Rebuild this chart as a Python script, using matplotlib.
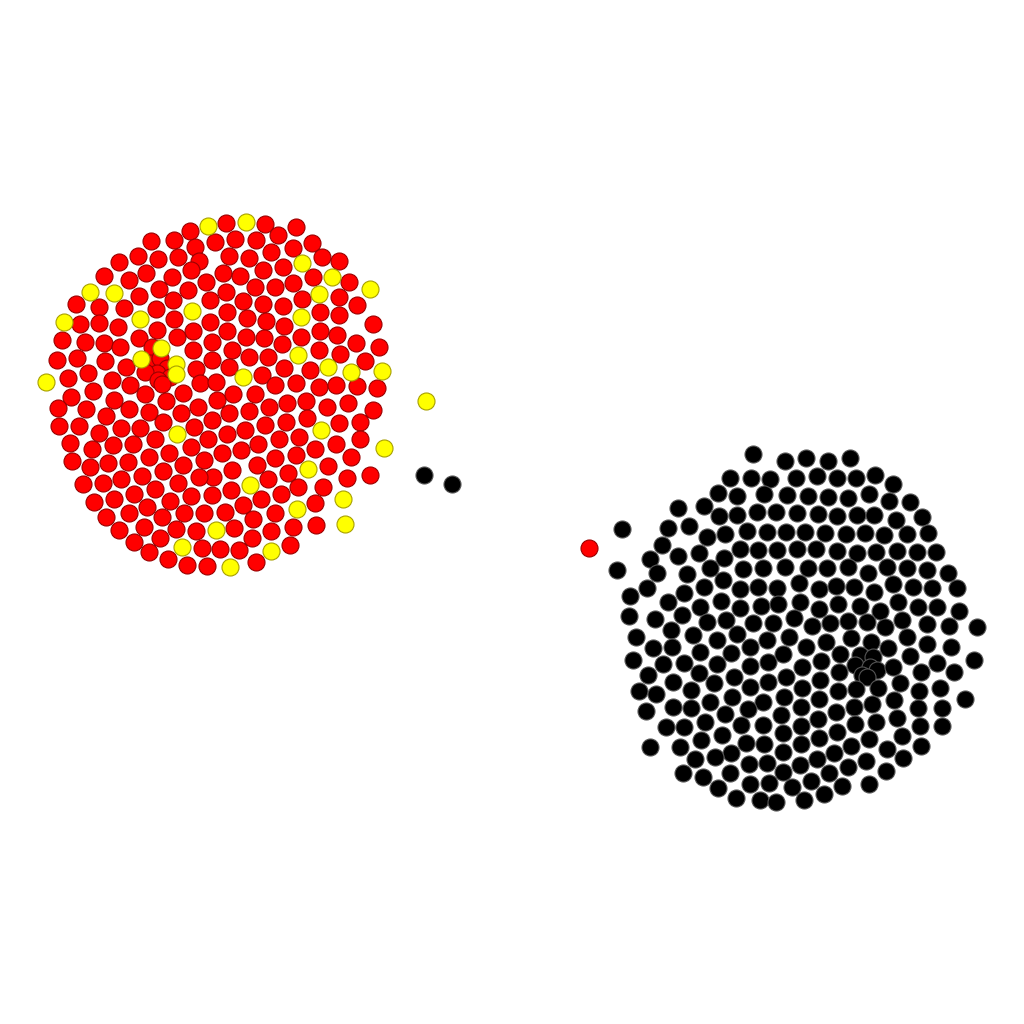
import matplotlib
matplotlib.use('Agg')
import numpy as np
import matplotlib.pyplot as plt

# node positions of the layout (canvas units, y grows downwards)
red_nodes = [
    (190,231), (151,241), (174,240), (195,247), (215,242),
    (119,262), (138,256), (158,259), (178,257), (199,261),
    (104,276), (129,280), (146,273), (172,277), (191,270), (206,282),
    (139,296), (159,289), (188,290), (210,300),
    (76,304), (99,307), (124,308), (156,309), (173,300),
    (80,324), (99,323), (118,327), (157,330), (174,319), (193,331), (210,322),
    (62,340), (85,342), (104,343), (120,347), (139,338), (177,337), (193,350), (212,342),
    (57,360), (77,358), (105,361), (126,367), (196,369), (212,360),
    (68,378), (88,373), (112,380), (130,385), (200,383), (216,382),
    (152,347), (150,363), (160,358), (167,368), (157,373), (145,372), (170,377), (158,380), (162,384),
    (93,391), (145,394), (183,393), (217,400), (71,397), (58,408), (86,409), (114,400), (129,409),
    (149,412), (166,401), (181,413), (198,407), (212,420),
    (59,426), (79,426), (99,433), (106,416), (121,428), (140,428), (163,422), (194,427), (208,439),
    (70,443), (92,449), (113,445), (133,444), (155,439), (169,453), (191,447), (222,453),
    (72,461), (90,467), (108,463), (128,462), (149,457), (163,471), (183,465), (204,460), (213,477),
    (83,484), (103,483), (121,479), (142,476), (155,489), (178,483), (199,477), (212,495),
    (94,502), (114,499), (134,494), (170,501), (191,496),
    (106,517), (129,513), (147,507), (162,517), (184,513), (204,513),
    (119,530), (144,527), (176,529), (196,531),
    (134,542), (160,538), (202,548), (220,549),
    (149,552), (168,559), (187,565), (207,566),
    (226,223), (265,224), (296,227), (235,239), (256,240), (278,235), (293,248), (312,243),
    (229,256), (249,258), (271,252), (322,257), (339,261),
    (223,273), (240,276), (263,270), (283,267), (293,283), (313,277), (349,282),
    (226,292), (255,287), (275,287), (339,297),
    (243,301), (263,304), (283,306), (302,299), (357,305),
    (227,312), (247,318), (266,321), (284,326), (320,312), (339,315), (373,324),
    (227,331), (246,337), (264,338), (282,344), (301,337), (320,331), (337,335), (356,343), (379,347),
    (232,350), (249,357), (268,357), (284,368), (319,350), (340,354), (365,361),
    (229,367), (262,375), (310,370),
    (275,385), (296,383), (319,387), (336,385), (357,386), (377,388),
    (233,394), (255,394), (229,413), (249,411), (269,407), (287,403), (306,401), (327,407), (348,403), (373,410),
    (227,434), (245,430), (265,425), (286,422), (307,418), (339,423), (360,422),
    (241,450), (258,444), (279,439), (299,437), (315,449), (336,444), (360,439), (351,457),
    (232,470), (257,465), (275,458), (296,455), (328,466), (347,478), (370,475),
    (231,490), (268,479), (288,473), (298,487), (323,487),
    (243,505), (261,499), (281,494), (315,503),
    (225,512), (253,519), (275,513), (293,527), (316,525),
    (234,528), (252,538), (271,531), (290,545),
    (239,550), (256,562),
    (589,548),
]

yellow_nodes = [
    (208,226), (246,222), (302,263), (332,277), (370,289), (319,294), (90,292), (114,293),
    (192,311), (64,322), (140,319), (301,317), (161,348), (141,359), (176,364), (176,374),
    (298,355), (46,382), (243,377), (328,367), (351,372), (382,371), (426,401), (177,434),
    (321,430), (384,448), (308,469), (250,485), (343,499), (297,509), (345,524), (216,530),
    (182,547), (271,551), (230,567),
]

black_nodes = [
    (424,475), (452,484),
    (622,529), (617,570), (753,454), (730,478), (751,478), (770,479), (718,493), (737,496), (764,494),
    (678,508), (704,506), (719,516), (737,515), (757,512), (776,512),
    (668,528), (689,526), (707,537), (725,534), (747,531), (767,532),
    (662,545), (678,556), (699,553), (724,558), (740,549), (758,550), (777,550),
    (650,559), (657,573), (687,574), (710,568), (743,569), (763,568),
    (647,588), (630,596), (684,593), (704,587), (723,580), (740,589), (758,587), (777,588),
    (668,602), (700,607), (721,601), (740,608), (761,606),
    (629,616), (655,619), (682,615), (707,622), (726,620), (753,623), (773,623),
    (785,461), (806,458), (828,461), (850,458),
    (796,478), (817,476), (837,478), (856,478), (875,475), (893,484),
    (787,495), (808,496), (828,497), (848,498), (869,494), (889,501), (910,502),
    (797,513), (818,514), (837,516), (857,515), (874,515), (896,520), (922,517),
    (786,532), (805,532), (825,533), (846,534), (865,533), (884,535), (907,534), (928,533),
    (797,549), (816,549), (837,551), (857,553), (876,552), (897,551), (917,552), (936,552),
    (785,567), (808,568), (827,568), (848,567), (868,573), (887,567), (907,568), (927,570), (948,573),
    (799,583), (819,589), (836,586), (854,587), (874,592), (893,584), (913,587), (932,588), (957,588),
    (778,604), (800,602), (819,609), (838,604), (860,606), (880,611), (898,602), (918,607), (937,607), (959,611),
    (794,618), (812,626), (830,623), (848,621), (867,622), (885,627), (902,620), (927,624), (949,626), (977,627),
    (636,637), (671,630), (693,635), (717,640), (737,634), (767,640),
    (653,648), (672,647), (700,652), (731,653), (750,647),
    (633,660), (663,664), (684,663), (717,664), (750,666), (768,662),
    (648,675), (699,673), (734,677),
    (673,682), (714,683), (750,687), (768,682),
    (639,691), (656,694), (691,690), (732,697), (710,702), (763,702),
    (646,711), (673,707), (691,708), (748,709), (725,714),
    (705,722), (666,727), (684,727), (741,725), (763,725),
    (722,735), (701,740), (746,743), (764,744), (650,747), (680,747),
    (731,753), (715,757), (695,759), (749,764), (767,763),
    (683,773), (703,777), (730,773), (750,784), (769,783),
    (718,788), (736,798), (760,800), (776,802),
    (789,637), (806,647), (826,642), (851,638), (871,642), (888,648), (907,637), (927,644), (951,647), (974,660),
    (783,654), (821,661), (840,654),
    (860,655), (873,657), (855,665), (870,667), (877,670), (862,675), (867,677),
    (893,667), (910,656), (921,672), (937,663), (954,672), (965,699),
    (786,677), (802,667), (820,680), (839,672), (856,689), (878,688), (900,683), (919,691), (940,688),
    (784,697), (802,688), (819,699), (838,691), (854,707), (872,704), (894,700), (918,708), (942,708),
    (781,715), (801,707), (818,719), (836,712), (855,724), (876,722), (897,718), (920,726), (942,726),
    (783,733), (801,726), (819,738), (837,732), (851,746), (869,739), (902,736), (921,746), (887,749),
    (783,752), (801,744), (817,759), (834,753), (866,761), (903,758),
    (783,772), (800,765), (829,773), (848,767), (886,771),
    (792,787), (811,781), (842,786), (869,784),
    (804,800), (824,794),
]

fig = plt.figure(figsize=(10.24, 10.24), dpi=100)
ax = fig.add_axes([0, 0, 1, 1])

markerSize = 150
for nodes, face, edge in [(black_nodes, '#000000', '#555555'),
                          (red_nodes, '#ff0000', '#9a0000'),
                          (yellow_nodes, '#ffff00', '#a8a000')]:
    pts = np.array(nodes)
    ax.scatter(pts[:, 0], pts[:, 1], s=markerSize, c=face, edgecolors=edge, linewidths=0.8)

ax.set_xlim(0, 1024)
ax.set_ylim(1024, 0)
ax.axis('off')
fig.savefig('out.png', dpi=100, facecolor='white')
